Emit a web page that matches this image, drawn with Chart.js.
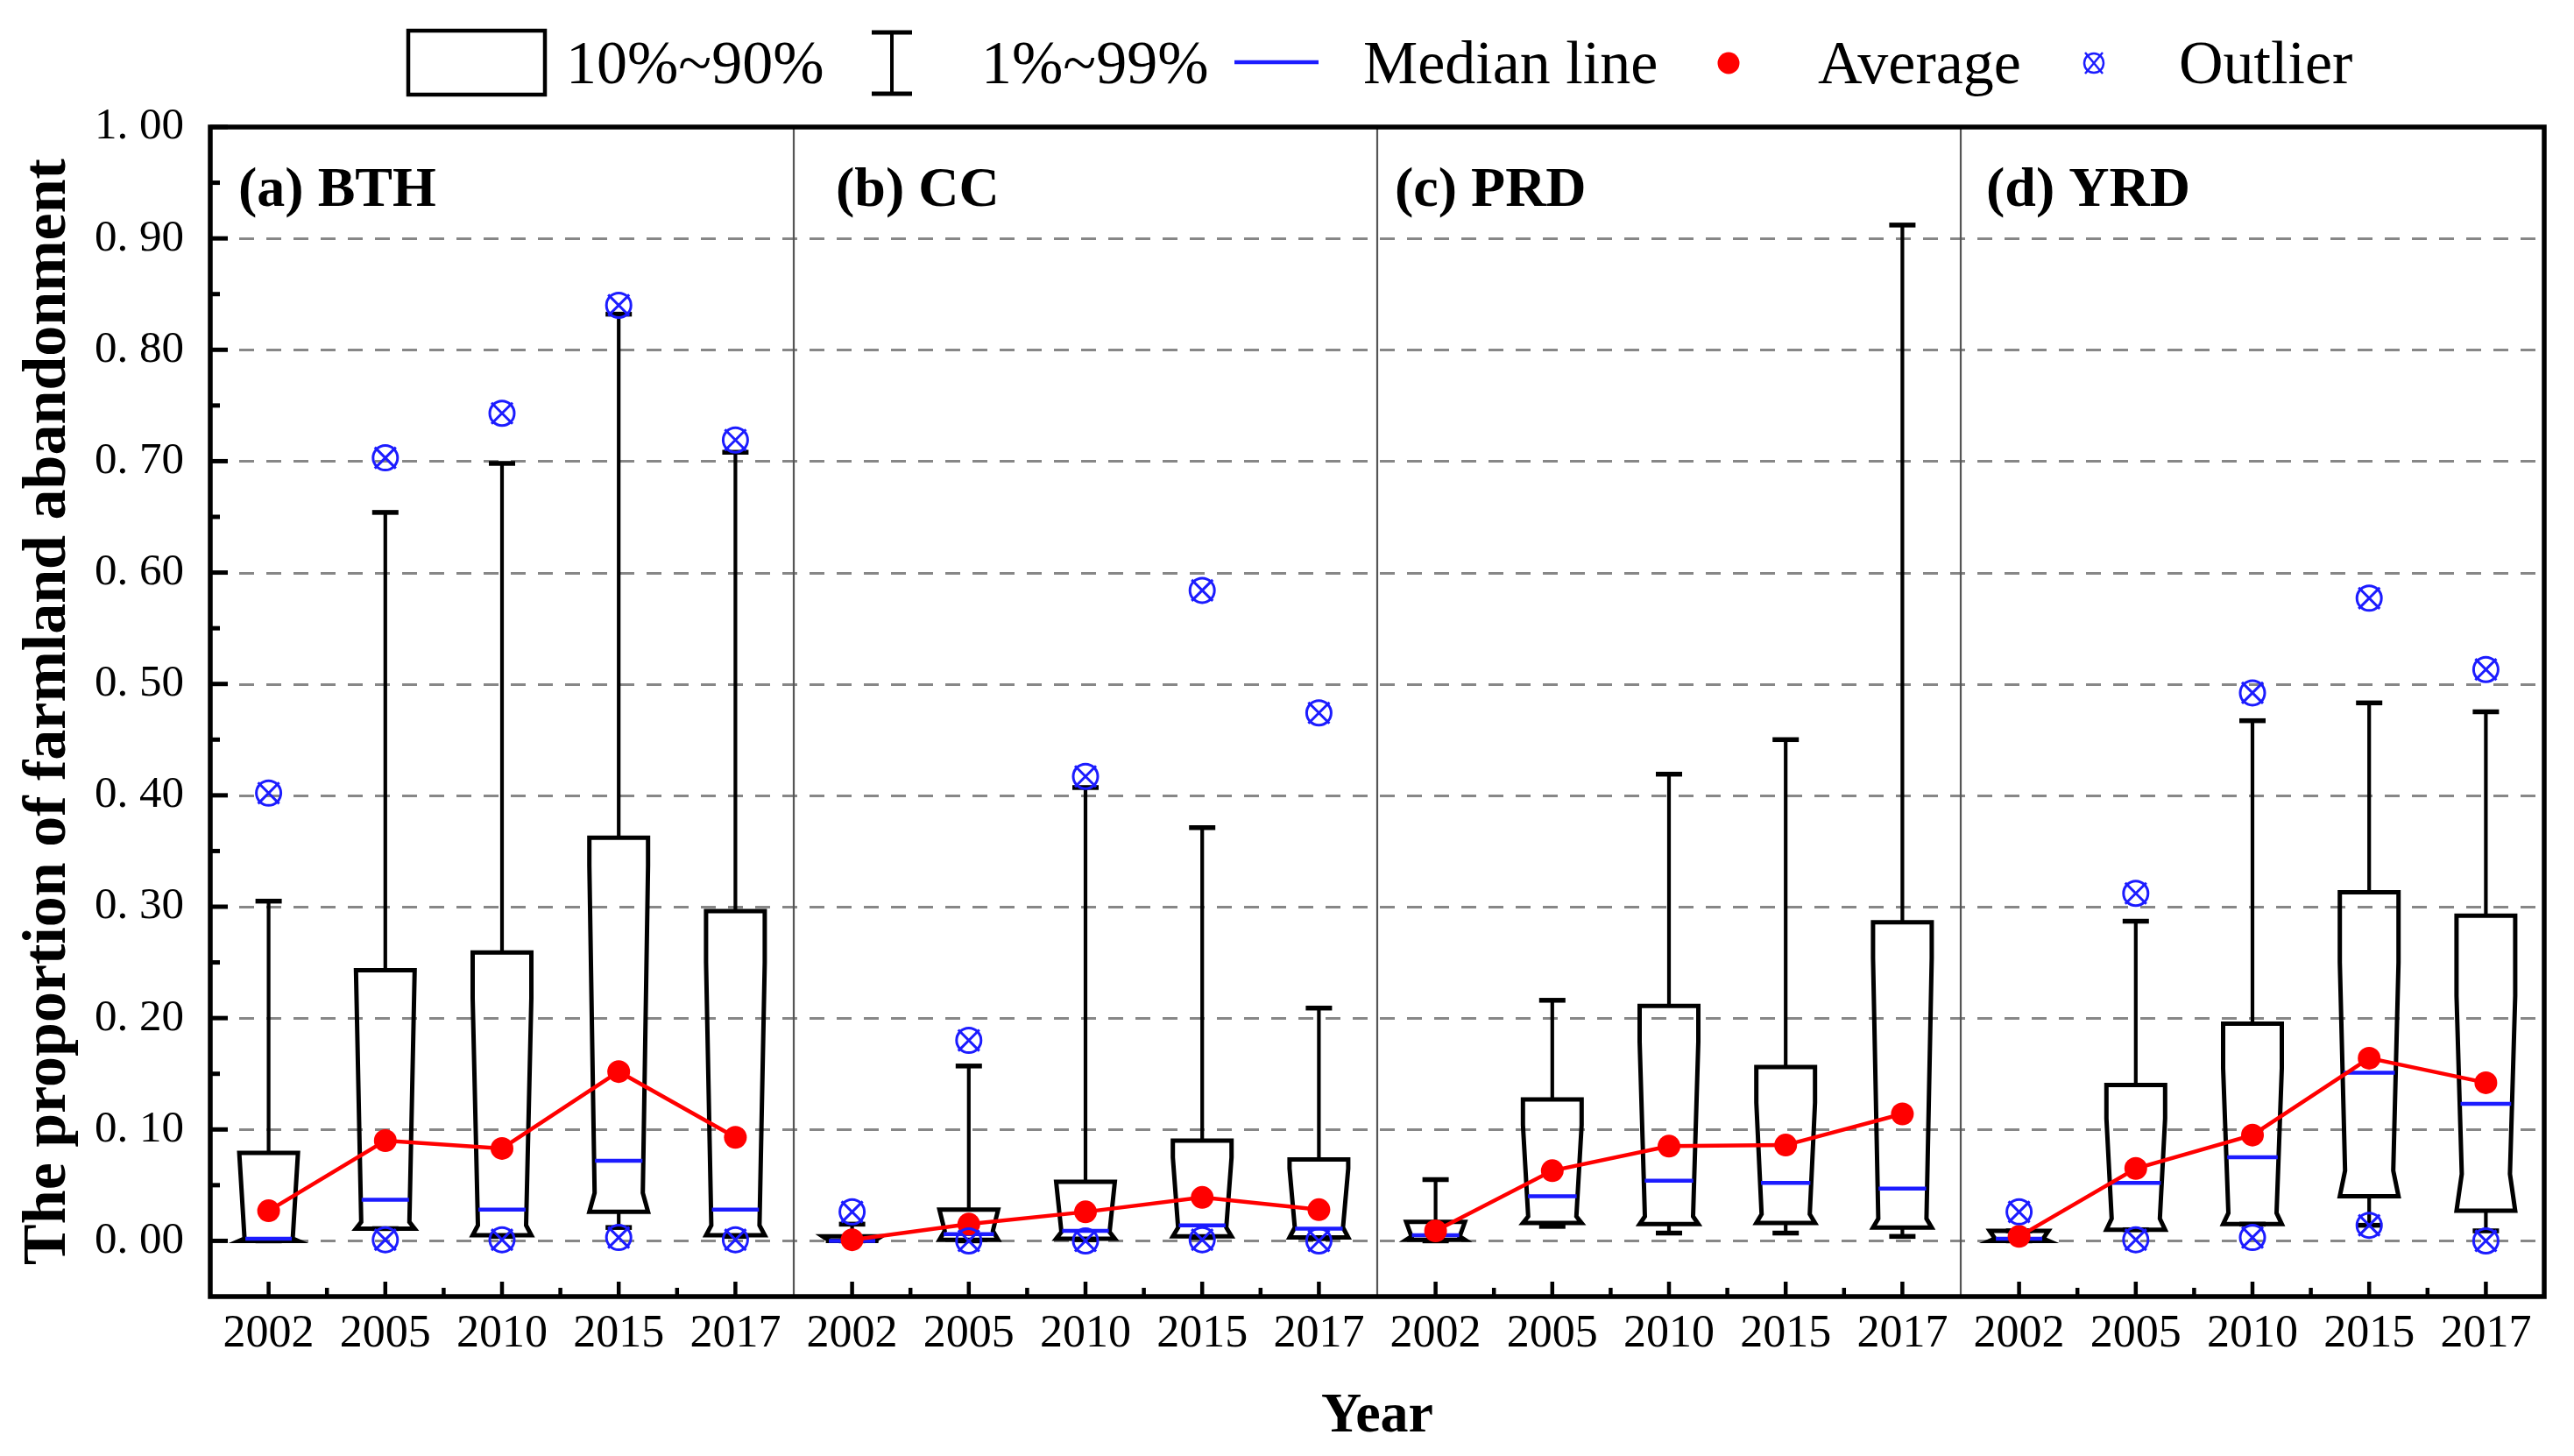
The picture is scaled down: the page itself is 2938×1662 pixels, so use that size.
<!DOCTYPE html>
<html><head><meta charset="utf-8">
<script src="https://cdn.jsdelivr.net/npm/chart.js@4.4.1/dist/chart.umd.min.js"></script>
<style>html,body{margin:0;padding:0;background:#fff;} canvas{display:block;}</style>
</head><body>
<canvas id="c" width="2938" height="1662"></canvas>
<script>
// ---------------- DATA ----------------
const years = ['2002', '2005', '2010', '2015', '2017'];
const regions = ['(a) BTH', '(b) CC', '(c) PRD', '(d) YRD'];
const yTicks = [0, 0.1, 0.2, 0.3, 0.4, 0.5, 0.6, 0.7, 0.8, 0.9, 1.0];

// rows: BTH, CC, PRD, YRD ; columns: years
const p90 = [
  [0.079, 0.243, 0.259, 0.362, 0.296],
  [0.004, 0.028, 0.053, 0.090, 0.073],
  [0.017, 0.127, 0.211, 0.156, 0.286],
  [0.009, 0.140, 0.195, 0.313, 0.292]];
const p10 = [
  [0.000, 0.011, 0.005, 0.026, 0.005],
  [0.000, 0.001, 0.002, 0.004, 0.003],
  [0.001, 0.016, 0.015, 0.016, 0.012],
  [0.000, 0.010, 0.015, 0.040, 0.027]];
const median = [
  [0.002, 0.037, 0.028, 0.072, 0.028],
  [0.000, 0.006, 0.009, 0.014, 0.011],
  [0.005, 0.040, 0.054, 0.052, 0.047],
  [0.002, 0.052, 0.075, 0.151, 0.123]];
const average = [
  [0.027, 0.090, 0.083, 0.152, 0.093],
  [0.001, 0.015, 0.026, 0.039, 0.028],
  [0.009, 0.063, 0.085, 0.086, 0.114],
  [0.004, 0.065, 0.095, 0.164, 0.142]];
const p99 = [
  [0.305, 0.654, 0.698, 0.832, 0.708],
  [0.015, 0.157, 0.407, 0.371, 0.209],
  [0.055, 0.216, 0.419, 0.450, 0.912],
  [0.009, 0.287, 0.467, 0.483, 0.475]];
const p1 = [
  [0.000, 0.011, 0.004, 0.012, 0.004],
  [0.000, 0.000, 0.001, 0.003, 0.002],
  [0.000, 0.013, 0.007, 0.007, 0.004],
  [0.000, 0.010, 0.015, 0.014, 0.009]];
const outlierHigh = [
  [0.402, 0.703, 0.743, 0.840, 0.719],
  [0.026, 0.180, 0.417, 0.584, 0.474],
  [null, null, null, null, null],
  [0.026, 0.312, 0.492, 0.577, 0.513]];
const outlierLow = [
  [null, 0.001, 0.001, 0.003, 0.001],
  [null, 0.000, 0.000, 0.001, 0.000],
  [null, null, null, null, null],
  [null, 0.001, 0.003, 0.014, 0.000]];
// notch shape of each box: where the sides start narrowing, and the narrowest level
const notchTop = [
  [0.079, 0.243, 0.218, 0.337, 0.250],
  [0.004, 0.028, 0.053, 0.075, 0.065],
  [0.017, 0.104, 0.179, 0.124, 0.254],
  [0.009, 0.110, 0.155, 0.250, 0.220]];
const notchWaist = [
  [0.002, 0.017, 0.014, 0.043, 0.014],
  [0.001, 0.009, 0.008, 0.012, 0.012],
  [0.004, 0.022, 0.022, 0.024, 0.020],
  [0.002, 0.020, 0.025, 0.063, 0.060]];

// ---------------- BUILD ----------------
const labels = [];
regions.forEach(() => years.forEach(y => labels.push(y)));
const nY = years.length;
const flat = rows => rows.reduce((a, r) => a.concat(r), []);

const meanSets = regions.map((r, ri) => {
  const d = new Array(labels.length).fill(null);
  average[ri].forEach((v, j) => { d[ri * nY + j] = v; });
  return {
    type: 'line', data: d, borderColor: '#ff0000', borderWidth: 4.5,
    pointRadius: 13, pointHoverRadius: 13, pointBackgroundColor: '#ff0000',
    pointBorderWidth: 0, spanGaps: false, fill: false
  };
});
const BLUE = '#1c1cff';
const outlierSets = [];
[flat(outlierHigh), flat(outlierLow)].forEach(arr => {
  outlierSets.push({ type: 'line', data: arr, showLine: false, spanGaps: false, pointStyle: 'crossRot', pointRadius: 17,
    pointHoverRadius: 17, pointBorderColor: BLUE, pointBorderWidth: 3 });
  outlierSets.push({ type: 'line', data: arr, showLine: false, spanGaps: false, pointStyle: 'circle', pointRadius: 14,
    pointHoverRadius: 14, pointBorderColor: BLUE, pointBackgroundColor: 'rgba(0,0,0,0)', pointBorderWidth: 3 });
});

const FONT = "'Liberation Serif', 'Times New Roman', serif";
const HW = 33.5, IND = 6, CAP = 15;

function boxPlugin() {
  return {
    id: 'boxes',
    beforeDatasetsDraw(chart) {
      const ctx = chart.ctx, xs = chart.scales.x, ys = chart.scales.y, ca = chart.chartArea;
      ctx.save();
      // dashed grid
      ctx.strokeStyle = '#878787'; ctx.lineWidth = 3; ctx.setLineDash([17, 14]);
      yTicks.forEach(v => {
        if (v >= 0.999) return;
        const py = Math.round(ys.getPixelForValue(v)) + 0.5;
        ctx.beginPath(); ctx.moveTo(ca.left + 2, py); ctx.lineTo(ca.right, py); ctx.stroke();
      });
      ctx.setLineDash([]);
      // separators
      ctx.strokeStyle = '#555'; ctx.lineWidth = 2.2;
      for (let k = 1; k < regions.length; k++) {
        const px = (xs.getPixelForValue(k * nY - 1) + xs.getPixelForValue(k * nY)) / 2;
        ctx.beginPath(); ctx.moveTo(px, ca.top); ctx.lineTo(px, ca.bottom); ctx.stroke();
      }
      // boxes
      regions.forEach((r, ri) => years.forEach((yr, j) => {
        const xc = xs.getPixelForValue(ri * nY + j);
        const top = p90[ri][j], bot = p10[ri][j];
        const nt = Math.min(notchTop[ri][j], top), w = Math.max(Math.min(notchWaist[ri][j], nt), bot);
        const yT = ys.getPixelForValue(top), yB = ys.getPixelForValue(bot);
        const yN = ys.getPixelForValue(nt), yW = ys.getPixelForValue(w);
        // whiskers
        ctx.strokeStyle = '#000'; ctx.lineWidth = 4.2;
        const yU = ys.getPixelForValue(p99[ri][j]), yL = ys.getPixelForValue(p1[ri][j]);
        ctx.beginPath(); ctx.moveTo(xc, yT); ctx.lineTo(xc, yU); ctx.stroke();
        ctx.beginPath(); ctx.moveTo(xc, yB); ctx.lineTo(xc, yL); ctx.stroke();
        ctx.lineWidth = 5.5;
        ctx.beginPath(); ctx.moveTo(xc - CAP, yU); ctx.lineTo(xc + CAP, yU); ctx.stroke();
        ctx.beginPath(); ctx.moveTo(xc - CAP, yL); ctx.lineTo(xc + CAP, yL); ctx.stroke();
        // box outline
        const bottomIndented = Math.abs(yB - yW) < 2;
        ctx.lineWidth = 5; ctx.lineJoin = 'miter';
        ctx.beginPath();
        ctx.moveTo(xc - HW, yT);
        ctx.lineTo(xc - HW, yN);
        ctx.lineTo(xc - HW + IND, yW);
        ctx.lineTo(bottomIndented ? xc - HW + IND : xc - HW, yB);
        ctx.lineTo(bottomIndented ? xc + HW - IND : xc + HW, yB);
        ctx.lineTo(xc + HW - IND, yW);
        ctx.lineTo(xc + HW, yN);
        ctx.lineTo(xc + HW, yT);
        ctx.closePath();
        ctx.stroke();
        // median
        const m = median[ri][j];
        let hw;
        if (m >= nt) hw = HW;
        else if (m >= w) hw = HW - IND * (nt - m) / Math.max(nt - w, 1e-9);
        else hw = HW - IND * (bottomIndented ? 1 : (m - bot) / Math.max(w - bot, 1e-9));
        const yM = ys.getPixelForValue(m);
        ctx.strokeStyle = BLUE; ctx.lineWidth = 4.5;
        ctx.beginPath(); ctx.moveTo(xc - hw + 1, yM); ctx.lineTo(xc + hw - 1, yM); ctx.stroke();
      }));
      ctx.restore();
    },
    afterDatasetsDraw(chart) {
      const ctx = chart.ctx, xs = chart.scales.x, ys = chart.scales.y, ca = chart.chartArea;
      ctx.save();
      ctx.strokeStyle = '#000';
      // inward ticks on y axis
      ctx.lineWidth = 5;
      yTicks.forEach(v => {
        const py = ys.getPixelForValue(v);
        ctx.beginPath(); ctx.moveTo(ca.left, py); ctx.lineTo(ca.left + 20, py); ctx.stroke();
        const pm = ys.getPixelForValue(v - 0.05);
        if (pm < ca.bottom - 3) { ctx.beginPath(); ctx.moveTo(ca.left, pm); ctx.lineTo(ca.left + 11, pm); ctx.stroke(); }
      });
      // inward ticks on x axis
      ctx.lineWidth = 4.5;
      for (let i = 0; i < labels.length; i++) {
        const px = xs.getPixelForValue(i);
        ctx.beginPath(); ctx.moveTo(px, ca.bottom); ctx.lineTo(px, ca.bottom - 17); ctx.stroke();
        if (i < labels.length - 1 && (i + 1) % nY !== 0) {
          const pb = (px + xs.getPixelForValue(i + 1)) / 2;
          ctx.beginPath(); ctx.moveTo(pb, ca.bottom); ctx.lineTo(pb, ca.bottom - 10); ctx.stroke();
        }
      }
      // frame
      ctx.lineWidth = 5.5;
      ctx.strokeRect(ca.left, ca.top, ca.right - ca.left, ca.bottom - ca.top);
      // panel labels
      const offs = [32, 48, 20, 29];
      ctx.fillStyle = '#000'; ctx.font = "bold 64px " + FONT; ctx.textBaseline = 'alphabetic'; ctx.textAlign = 'left';
      regions.forEach((r, ri) => {
        const left = ri === 0 ? ca.left : (xs.getPixelForValue(ri * nY - 1) + xs.getPixelForValue(ri * nY)) / 2;
        ctx.fillText(r, left + offs[ri], ca.top + 90);
      });
      ctx.restore();
    },
    afterDraw(chart) {
      const ctx = chart.ctx, ca = chart.chartArea;
      ctx.save();
      ctx.fillStyle = '#000';
      // axis titles
      ctx.font = "bold 70px " + FONT; ctx.textAlign = 'center'; ctx.textBaseline = 'middle';
      ctx.save(); ctx.translate(56, (ca.top + ca.bottom) / 2); ctx.rotate(-Math.PI / 2);
      ctx.fillText('The proportion of farmland abandonment', 0, 0); ctx.restore();
      ctx.font = "bold 64px " + FONT; ctx.textBaseline = 'alphabetic';
      ctx.fillText('Year', (ca.left + ca.right) / 2, 1634);
      // legend
      const by = 95;
      ctx.font = "70px " + FONT; ctx.textAlign = 'left';
      ctx.strokeStyle = '#000'; ctx.lineWidth = 4.5;
      ctx.strokeRect(466, 35, 156, 73);
      ctx.fillText('10%~90%', 646, by);
      ctx.lineWidth = 4;
      ctx.beginPath(); ctx.moveTo(1018, 37); ctx.lineTo(1018, 107); ctx.stroke();
      ctx.lineWidth = 5;
      ctx.beginPath(); ctx.moveTo(995, 37); ctx.lineTo(1041, 37); ctx.moveTo(995, 107); ctx.lineTo(1041, 107); ctx.stroke();
      ctx.fillText('1%~99%', 1120, by);
      ctx.strokeStyle = BLUE; ctx.lineWidth = 4.5;
      ctx.beginPath(); ctx.moveTo(1409, 71); ctx.lineTo(1505, 71); ctx.stroke();
      ctx.fillText('Median line', 1556, by);
      ctx.fillStyle = '#ff0000';
      ctx.beginPath(); ctx.arc(1973, 72, 12.5, 0, Math.PI * 2); ctx.fill();
      ctx.fillStyle = '#000';
      ctx.fillText('Average', 2075, by);
      ctx.strokeStyle = BLUE; ctx.lineWidth = 2.5;
      ctx.beginPath(); ctx.arc(2390, 72, 11, 0, Math.PI * 2); ctx.stroke();
      ctx.beginPath();
      ctx.moveTo(2380, 60); ctx.lineTo(2400, 84); ctx.moveTo(2400, 60); ctx.lineTo(2380, 84); ctx.stroke();
      ctx.fillText('Outlier', 2487, by);
      ctx.restore();
    }
  };
}

new Chart(document.getElementById('c'), {
  data: { labels: labels, datasets: [...outlierSets, ...meanSets] },
  options: {
    responsive: false, animation: false, devicePixelRatio: 1,
    layout: { padding: { top: 145, right: 34, left: 0, bottom: 0 } },
    plugins: { legend: { display: false }, tooltip: { enabled: false }, title: { display: false } },
    scales: {
      x: {
        type: 'category', offset: true,
        grid: { display: false, drawTicks: false }, border: { display: false },
        ticks: { autoSkip: false, maxRotation: 0, minRotation: 0, padding: 12, color: '#000',
          font: { family: FONT, size: 52 } },
        afterFit(s) { s.height = 182; }
      },
      y: {
        type: 'linear', min: -0.05, max: 1.0,
        grid: { display: false, drawTicks: false }, border: { display: false },
        afterBuildTicks(s) { s.ticks = yTicks.map(v => ({ value: v })); },
        ticks: { padding: 30, color: '#000', font: { family: FONT, size: 51 },
          callback: v => v.toFixed(2).replace('.', '. ') },
        afterFit(s) { s.width = 240; }
      }
    }
  },
  plugins: [boxPlugin()]
});
</script>
</body></html>
